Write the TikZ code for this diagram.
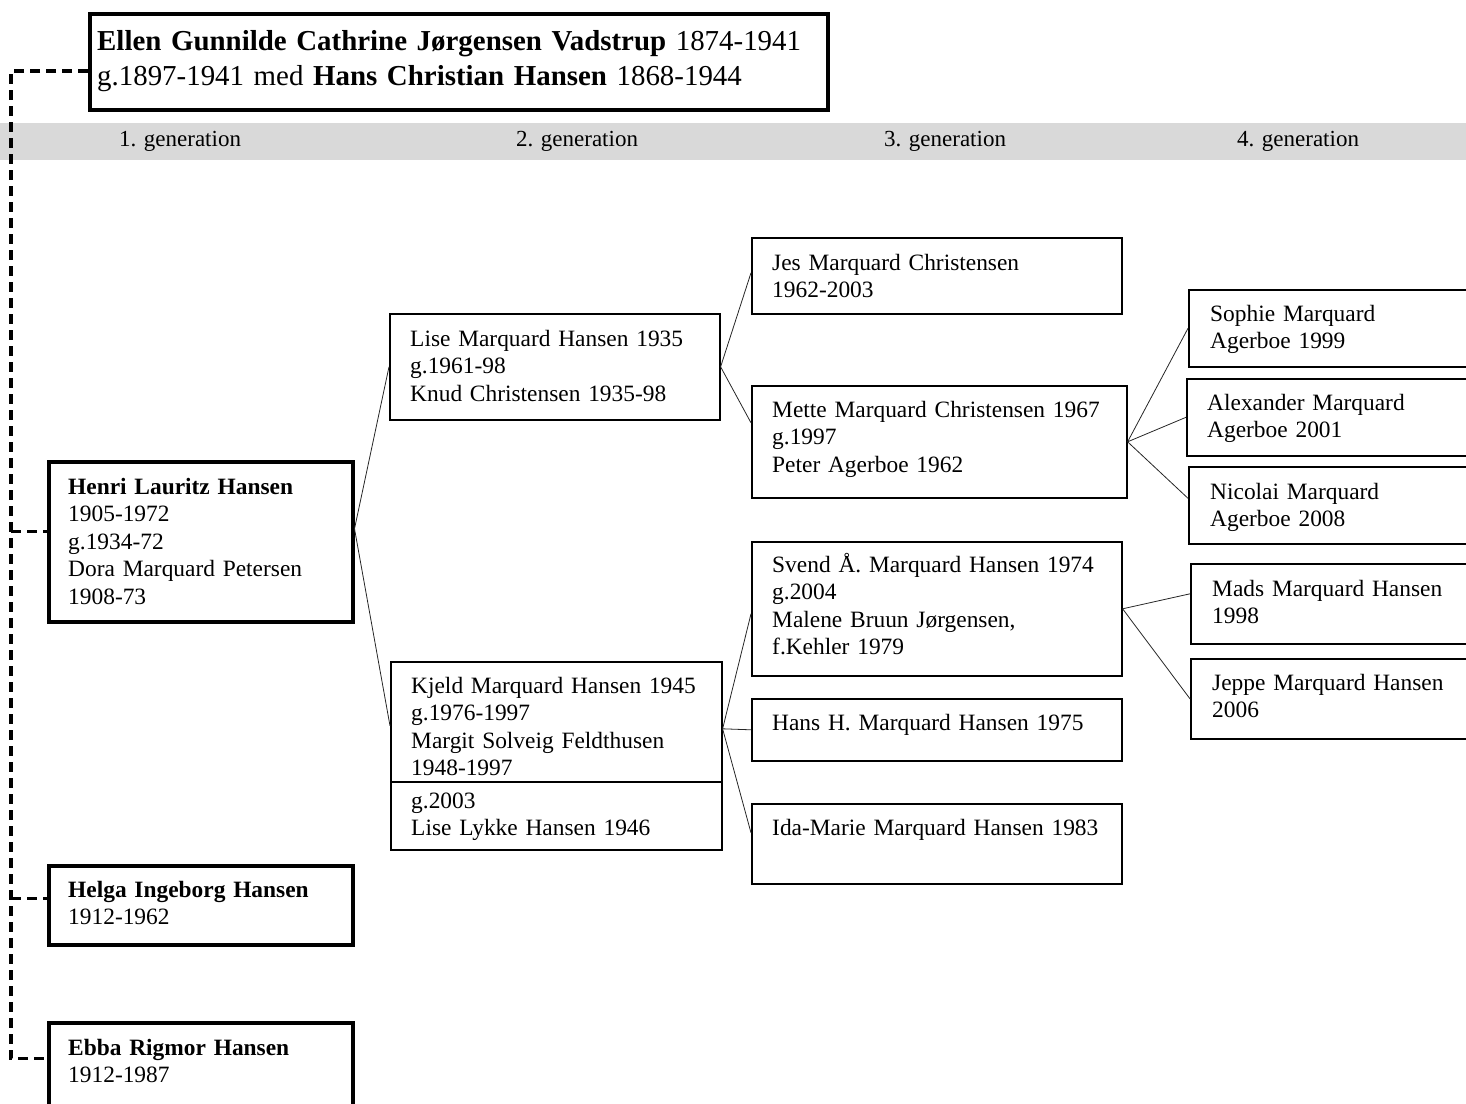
\documentclass[tikz,border=0pt]{standalone}
\usepackage{fontspec}
\setmainfont{Liberation Serif}
\usetikzlibrary{calc}
\begin{document}
\begin{tikzpicture}[x=1pt,y=-1pt,
  thinbox/.style={draw, line width=1.6pt, inner sep=0pt, anchor=north west},
  thickbox/.style={draw, line width=3.5pt, inner sep=0pt, anchor=north west},
  txt/.style={font=\fontsize{23.4}{27.5}\selectfont, anchor=base west, inner sep=0pt, align=left, text width=460pt},
  gen/.style={font=\fontsize{23}{26}\selectfont, inner sep=0pt},
  famline/.style={line width=3.4pt, dash pattern=on 10pt off 6pt},
  kin/.style={line width=0.8pt, black!85}]
\useasboundingbox (0,0) rectangle (1466,1103);
\clip (0,0) rectangle (1466,1103);
\fill[black!15] (0,123) rectangle (1466,160);
\node[gen] (g1) at (180,141) {1. generation};
\node[gen] (g2) at (577,141) {2. generation};
\node[gen] (g3) at (945,141) {3. generation};
\node[gen] (g4) at (1298,141) {4. generation};

% top couple
\node[thickbox, line width=4pt, minimum width=738pt, minimum height=96pt] (top) at (88,12) {};
\node[txt, font=\fontsize{28.9}{35}\selectfont, text width=760pt] (toptxt) at ($(top.north west)+(9,38)$)
  {\textbf{Ellen Gunnilde Cathrine Jørgensen Vadstrup} 1874-1941\\g.1897-1941 med \textbf{Hans Christian Hansen} 1868-1944};

% generation 1
\node[thickbox, minimum width=304pt, minimum height=160pt] (henri) at (47,460) {};
\node[txt] (henritxt) at ($(henri.north west)+(21,34)$) {\textbf{Henri Lauritz Hansen}\\1905-1972\\g.1934-72\\Dora Marquard Petersen\\1908-73};
\node[thickbox, minimum width=304pt, minimum height=79pt] (helga) at (47,864) {};
\node[txt] (helgatxt) at ($(helga.north west)+(21,33)$) {\textbf{Helga Ingeborg Hansen}\\1912-1962};
\node[thickbox, minimum width=304pt, minimum height=109pt] (ebba) at (47,1021) {};
\node[txt] (ebbatxt) at ($(ebba.north west)+(21,34)$) {\textbf{Ebba Rigmor Hansen}\\1912-1987};

% generation 2
\node[thinbox, minimum width=330pt, minimum height=106pt] (lise) at (389,313) {};
\node[txt] (lisetxt) at ($(lise.north west)+(21,33)$) {Lise Marquard Hansen 1935\\g.1961-98\\Knud Christensen 1935-98};
\node[thinbox, minimum width=331pt, minimum height=188pt] (kjeld) at (390,661) {};
\draw[line width=1.6pt] ($(kjeld.north west)+(0,121)$) -- ($(kjeld.north east)+(0,121)$);
\node[txt] (kjeldtxt) at ($(kjeld.north west)+(21,32)$) {Kjeld Marquard Hansen 1945\\g.1976-1997\\Margit Solveig Feldthusen\\1948-1997};
\node[txt] (kjeldtxtb) at ($(kjeld.north west)+(21,147)$) {g.2003\\Lise Lykke Hansen 1946};

% generation 3
\node[thinbox, minimum width=370pt, minimum height=76pt] (jes) at (751,237) {};
\node[txt] (jestxt) at ($(jes.north west)+(21,33)$) {Jes Marquard Christensen\\1962-2003};
\node[thinbox, minimum width=375pt, minimum height=112pt] (mette) at (751,385) {};
\node[txt] (mettetxt) at ($(mette.north west)+(21,32)$) {Mette Marquard Christensen 1967\\g.1997\\Peter Agerboe 1962};
\node[thinbox, minimum width=370pt, minimum height=134pt] (svend) at (751,541) {};
\node[txt] (svendtxt) at ($(svend.north west)+(21,31)$) {Svend Å. Marquard Hansen 1974\\g.2004\\Malene Bruun Jørgensen,\\f.Kehler 1979};
\node[thinbox, minimum width=370pt, minimum height=62pt] (hansh) at (751,698) {};
\node[txt] (hanshtxt) at ($(hansh.north west)+(21,32)$) {Hans H. Marquard Hansen 1975};
\node[thinbox, minimum width=370pt, minimum height=80pt] (ida) at (751,803) {};
\node[txt] (idatxt) at ($(ida.north west)+(21,32)$) {Ida-Marie Marquard Hansen 1983};

% generation 4
\node[thinbox, minimum width=292pt, minimum height=77pt] (sophie) at (1188,289) {};
\node[txt] (sophietxt) at ($(sophie.north west)+(22,32)$) {Sophie Marquard\\Agerboe 1999};
\node[thinbox, minimum width=294pt, minimum height=77pt] (alex) at (1186,378) {};
\node[txt] (alextxt) at ($(alex.north west)+(21,32)$) {Alexander Marquard\\Agerboe 2001};
\node[thinbox, minimum width=292pt, minimum height=77pt] (nicolai) at (1188,466) {};
\node[txt] (nicolaitxt) at ($(nicolai.north west)+(22,33)$) {Nicolai Marquard\\Agerboe 2008};
\node[thinbox, minimum width=290pt, minimum height=80pt] (mads) at (1190,563) {};
\node[txt] (madstxt) at ($(mads.north west)+(22,33)$) {Mads Marquard Hansen\\1998};
\node[thinbox, minimum width=290pt, minimum height=80pt] (jeppe) at (1190,658) {};
\node[txt] (jeppetxt) at ($(jeppe.north west)+(22,32)$) {Jeppe Marquard Hansen\\2006};

% family trunk (dashed)
\coordinate (tA) at (11,69);
\coordinate (topS) at ([yshift=-9pt]top.west);
\coordinate (henriS) at ([yshift=10pt]henri.west);
\coordinate (helgaS) at ([yshift=6.5pt]helga.west);
\coordinate (ebbaS) at ([yshift=18.5pt]ebba.west);
\draw[famline] (topS) -- (topS -| tA) -- (ebbaS -| tA) -- (ebbaS);
\draw[famline] (henriS -| tA) -- (henriS);
\draw[famline] (helgaS -| tA) -- (helgaS);

% descendant connectors
\draw[kin] ([yshift=13pt]henri.east) -- (lise.west);
\draw[kin] ([yshift=13pt]henri.east) -- ([yshift=30pt]kjeld.west);
\draw[kin] (lise.east) -- ([yshift=3pt]jes.west);
\draw[kin] (lise.east) -- ([yshift=19pt]mette.west);
\draw[kin] (mette.east) -- (sophie.west);
\draw[kin] (mette.east) -- (alex.west);
\draw[kin] (mette.east) -- ([yshift=7pt]nicolai.west);
\draw[kin] ([yshift=27pt]kjeld.east) -- ([yshift=-5pt]svend.west);
\draw[kin] ([yshift=27pt]kjeld.east) -- (hansh.west);
\draw[kin] ([yshift=27pt]kjeld.east) -- ([yshift=11pt]ida.west);
\draw[kin] (svend.east) -- ([yshift=10pt]mads.west);
\draw[kin] (svend.east) -- (jeppe.west);
\end{tikzpicture}
\end{document}
